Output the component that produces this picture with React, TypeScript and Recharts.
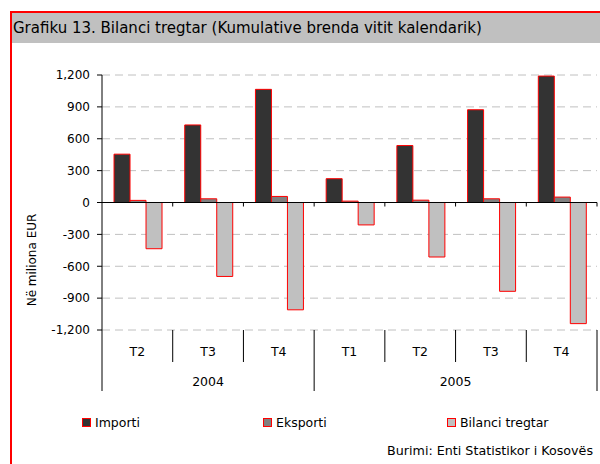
import { Bar, BarChart, CartesianGrid, ReferenceLine, XAxis, YAxis } from 'recharts';

const quarters = ['T2', 'T3', 'T4', 'T1', 'T2', 'T3', 'T4'];
const years = ['2004', '2004', '2004', '2005', '2005', '2005', '2005'];
const importi = [455, 730, 1065, 224, 536, 873, 1190];
const eksporti = [20, 35, 57, 13, 22, 35, 51];
const bilanci = [-435, -696, -1010, -211, -513, -836, -1140];
const yTicks = [-1200, -900, -600, -300, 0, 300, 600, 900, 1200];

const series = [
  { key: 'importi', name: 'Importi', fill: '#333333' },
  { key: 'eksporti', name: 'Eksporti', fill: '#808080' },
  { key: 'bilanci', name: 'Bilanci tregtar', fill: '#c0c0c0' },
];

const data = quarters.map((q, i) => ({
  id: `${years[i]}-${q}`,
  q,
  year: years[i],
  importi: importi[i],
  eksporti: eksporti[i],
  bilanci: bilanci[i],
}));

const W = 600;
const H = 464;
const M = { top: 75, right: 3, left: 42, bottom: 64 };
const Y_AXIS_W = 60;
const X_AXIS_H = 70;
const plotW = W - M.left - Y_AXIS_W - M.right;
const plotH = H - M.top - M.bottom - X_AXIS_H;
const band = plotW / data.length;
const yMin = -1200;
const yMax = 1200;
const FONT = '"DejaVu Sans", sans-serif';

const fmt = (v: number) => v.toLocaleString('en-US');

function QuarterTick(props: any) {
  const { x, y, index } = props;
  const d = data[index];
  const left = x - band / 2;
  const right = x + band / 2;
  const zeroY = y - (plotH * (0 - yMin)) / (yMax - yMin);
  const first = index === 0 || data[index - 1].year !== d.year;
  const last = index === data.length - 1;
  let yearLabel = null;
  if (first) {
    const count = data.filter((r) => r.year === d.year).length;
    yearLabel = (
      <text x={left + (count * band) / 2} y={y + 51} textAnchor="middle" dominantBaseline="central"
        fontSize={12.5} fill="#000" fontFamily={FONT}>
        {d.year}
      </text>
    );
  }
  return (
    <g>
      <text x={x} y={y + 21} textAnchor="middle" dominantBaseline="central" fontSize={12.5} fill="#000" fontFamily={FONT}>
        {d.q}
      </text>
      <line x1={left} x2={left} y1={y} y2={first ? y + 61 : y + 32} stroke="#000" />
      {last && <line x1={right} x2={right} y1={y} y2={y + 61} stroke="#000" />}
      {index > 0 && <line x1={left} x2={left} y1={zeroY} y2={zeroY + 4} stroke="#000" />}
      {last && <line x1={right} x2={right} y1={zeroY} y2={zeroY + 4} stroke="#000" />}
      {yearLabel}
    </g>
  );
}

export default function App() {
  return (
    <div style={{ position: 'absolute', left: 0, top: 0, width: W, height: H, background: '#fff', fontFamily: FONT, overflow: 'hidden' }}>
      <div style={{ position: 'absolute', left: 10, top: 11, width: W, height: H, borderLeft: '2px solid #ff0000', borderTop: '2px solid #ff0000', boxSizing: 'border-box' }} />
      <div style={{ position: 'absolute', left: 12, top: 13, right: 0, height: 30, background: '#c0c0c0', fontSize: 15, lineHeight: '30px', paddingLeft: 1, color: '#000', whiteSpace: 'nowrap' }}>
        Grafiku 13. Bilanci tregtar (Kumulative brenda vitit kalendarik)
      </div>
      <BarChart width={W} height={H} data={data} margin={M} barGap={0} barCategoryGap="17%" style={{ position: 'absolute', left: 0, top: 0 }}>
        <CartesianGrid vertical={false} stroke="#c0c0c0" strokeDasharray="8 5" />
        <XAxis dataKey="id" height={X_AXIS_H} axisLine={false} tickLine={false} tickSize={0} tickMargin={0} interval={0} tick={<QuarterTick />} />
        <YAxis domain={[yMin, yMax]} ticks={yTicks} width={Y_AXIS_W} tickFormatter={fmt} axisLine={{ stroke: '#000' }}
          tickLine={{ stroke: '#000' }} tickSize={5} tickMargin={7} tick={{ fill: '#000', fontSize: 12, fontFamily: FONT }} interval={0} />
        {series.map((s) => (
          <Bar key={s.key} dataKey={s.key} name={s.name} fill={s.fill} stroke="#ff0000" strokeWidth={1} isAnimationActive={false} />
        ))}
        <ReferenceLine y={0} stroke="#000" />
      </BarChart>
      <div style={{ position: 'absolute', left: 32, top: 260, transform: 'translate(-50%, -50%) rotate(-90deg)', fontSize: 12, whiteSpace: 'nowrap', color: '#000' }}>
        Në miliona EUR
      </div>
      {series.map((s, i) => (
        <div key={s.key} style={{ position: 'absolute', left: [82, 263, 447][i], top: 415, display: 'flex', alignItems: 'center', fontSize: 12.5, color: '#000' }}>
          <span style={{ width: 9, height: 9, background: s.fill, border: '1px solid #ff0000', marginRight: 4, boxSizing: 'border-box' }} />
          {s.name}
        </div>
      ))}
      <div style={{ position: 'absolute', right: 7, top: 443, fontSize: 12.7, color: '#000', whiteSpace: 'nowrap' }}>
        Burimi: Enti Statistikor i Kosovës
      </div>
    </div>
  );
}
